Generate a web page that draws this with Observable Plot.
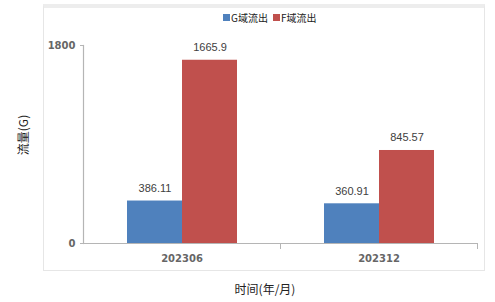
<!DOCTYPE html>
<html><head><meta charset="utf-8">
<script src="https://cdn.jsdelivr.net/npm/d3@7"></script>
<script src="https://cdn.jsdelivr.net/npm/@observablehq/plot@0.6"></script>
<style>
html,body{margin:0;padding:0;background:#fff;}
#wrap{position:relative;width:495px;height:302px;overflow:hidden;font-family:"Noto Sans CJK SC","DejaVu Sans",sans-serif;}
#border{position:absolute;left:43px;top:4px;width:442px;height:267px;border:1px solid #e6e6e6;border-top:4px solid #ededed;box-sizing:border-box;}
#legend{position:absolute;top:10px;left:223px;display:flex;align-items:center;font-size:10px;color:#222;}
#legend .sw{display:inline-block;width:7px;height:7px;margin-right:1px;}
#legend .it{display:flex;align-items:center;margin-right:5px;}
#ylab{position:absolute;left:22px;top:135px;transform:translate(-50%,-50%) rotate(-90deg);font-size:12px;color:#222;white-space:nowrap;}
#xlab{position:absolute;left:265px;top:288px;transform:translate(-50%,-50%);font-size:12px;color:#222;white-space:nowrap;}
#chart{position:absolute;left:0;top:0;}
</style></head>
<body><div id="wrap"><div id="border"></div><div id="chart"></div><div id="legend"></div><div id="ylab">流量(G)</div><div id="xlab">时间(年/月)</div></div>
<script>
const periods = ["202306", "202312"];
const series = ["G域流出", "F域流出"];
const gValues = [386.11, 360.91];
const fValues = [1665.9, 845.57];
const colors = ["#4F81BD", "#C0504D"];
const yTicks = [0, 1800];
const yMax = 1800;

const data = periods.flatMap((p, i) => [
  {period: p, series: series[0], value: gValues[i]},
  {period: p, series: series[1], value: fValues[i]}
]);

const W = 495, H = 302, mT = 45, mB = 59, mL = 83, mR = 18;
const innerH = H - mT - mB;

const chart = Plot.plot({
  width: W, height: H,
  marginLeft: mL, marginRight: mR, marginTop: mT, marginBottom: mB,
  style: {fontFamily: "DejaVu Sans, sans-serif", fontSize: "10px", background: "transparent"},
  fx: {domain: periods, padding: 0, label: null, axis: null},
  x: {domain: series, paddingOuter: 0.76, paddingInner: 0, axis: null},
  y: {domain: [0, yMax], axis: null},
  color: {domain: series, range: colors},
  marks: [
    Plot.barY(data, {fx: "period", x: "series", y: "value", fill: "series"}),
    Plot.text(data, {fx: "period", x: "series", y: "value", text: d => String(d.value), dy: -9, lineAnchor: "bottom", fontSize: 11, fontFamily: "Liberation Sans, Arial, sans-serif", fill: "#404040"}),
    Plot.ruleY([0], {stroke: "#b5b5b5", strokeWidth: 1.2}),
    Plot.frame({anchor: "left", facetAnchor: "left", stroke: "#b5b5b5", strokeWidth: 1.2}),
    Plot.frame({anchor: "right", stroke: "#b5b5b5", insetTop: innerH, insetBottom: -5}),
    Plot.axisY({ticks: yTicks, tickFormat: d => String(d), tickSize: 3, tickPadding: 5, stroke: "#b5b5b5", fill: "#666", fontWeight: "bold", fontSize: 10, label: null}),
    Plot.axisFx({anchor: "bottom", tickSize: 0, tickPadding: 11, fill: "#666", fontWeight: "bold", fontSize: 10, label: null})
  ]
});
document.getElementById("chart").appendChild(chart);

const lg = document.getElementById("legend");
series.forEach((s, i) => {
  const it = document.createElement("span");
  it.className = "it";
  const sw = document.createElement("span");
  sw.className = "sw";
  sw.style.background = colors[i];
  it.appendChild(sw);
  it.appendChild(document.createTextNode(s));
  lg.appendChild(it);
});
</script></body></html>
